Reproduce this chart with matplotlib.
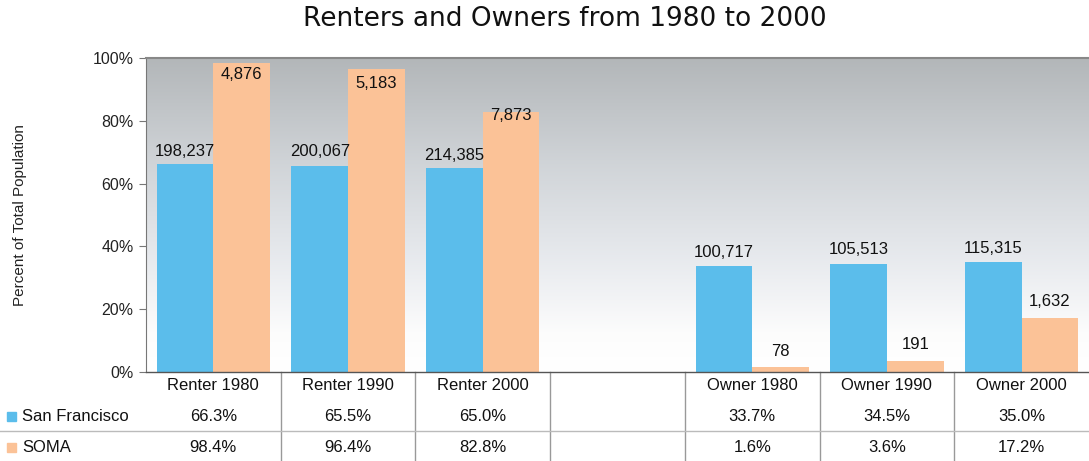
import matplotlib
matplotlib.use("Agg")
import matplotlib.pyplot as plt
import numpy as np
from matplotlib.colors import LinearSegmentedColormap
import matplotlib.transforms as mtransforms

categories = ["Renter 1980", "Renter 1990", "Renter 2000", "", "Owner 1980", "Owner 1990", "Owner 2000"]
sf_pct = [66.3, 65.5, 65.0, None, 33.7, 34.5, 35.0]
soma_pct = [98.4, 96.4, 82.8, None, 1.6, 3.6, 17.2]
sf_counts = ["198,237", "200,067", "214,385", "", "100,717", "105,513", "115,315"]
soma_counts = ["4,876", "5,183", "7,873", "", "78", "191", "1,632"]
series_names = ["San Francisco", "SOMA"]
yticks = [0, 20, 40, 60, 80, 100]
title = "Renters and Owners from 1980 to 2000"
ylabel = "Percent of Total Population"

# style
sf_color = "#5BBDEB"
soma_color = "#FBC297"
sf_label_off = [3.8, 4.6, 4.1, 0, 4.2, 4.4, 4.2]
soma_label_off = [-3.8, -4.4, -1.0, 0, 4.8, 5.0, 5.1]
fs = 12

plt.rcParams['font.family'] = ['Liberation Sans', 'DejaVu Sans']

fig = plt.figure(figsize=(10.89, 4.61), dpi=100)
ax = fig.add_axes([146/1089, (461-372)/461, (1089-146)/1089, 314/461])

n = len(categories)
x = np.arange(n)
ax.set_xlim(-0.5, n - 0.5)
ax.set_ylim(0, 100)

# gradient background
stops = [(0.0, (1, 1, 1)), (0.12, (0.99, 0.99, 0.99)), (0.35, (0.91, 0.92, 0.935)),
         (0.65, (0.82, 0.835, 0.85)), (1.0, (0.70, 0.715, 0.725))]
cmap = LinearSegmentedColormap.from_list("bg", stops)
grad = np.linspace(0, 1, 256).reshape(-1, 1)
ax.imshow(grad, extent=[-0.5, n - 0.5, 0, 100], origin="lower", aspect="auto",
          cmap=cmap, zorder=0)

w = 0.42
for i in range(n):
    if sf_pct[i] is None:
        continue
    ax.bar(x[i] - w/2, sf_pct[i], width=w, color=sf_color, zorder=2)
    ax.bar(x[i] + w/2, soma_pct[i], width=w, color=soma_color, zorder=2)
    ax.text(x[i] - w/2, sf_pct[i] + sf_label_off[i], sf_counts[i], ha="center",
            va="center", fontsize=fs, color="#111111", zorder=3)
    ax.text(x[i] + w/2, soma_pct[i] + soma_label_off[i], soma_counts[i], ha="center",
            va="center", fontsize=fs, color="#111111", zorder=3)

ax.set_yticks(yticks)
ax.set_yticklabels([f"{t}%" for t in yticks], fontsize=11.5, color="#222222")
ax.set_xticks([])
ax.tick_params(axis="y", direction="out", length=5, color="#777777", pad=4)
ax.spines["right"].set_visible(False)
ax.spines["top"].set_color("#888888")
ax.spines["top"].set_linewidth(1.5)
ax.spines["left"].set_color("#777777")
ax.spines["bottom"].set_color("#555555")
ax.spines["bottom"].set_linewidth(1.0)

ax.set_ylabel(ylabel, fontsize=11, color="#222222")
ax.yaxis.set_label_coords(-0.126, 0.5)

fig.text(565/1089, 1 - 19/461, title, ha="center", va="center", fontsize=19,
         family="DejaVu Sans", color="#111111")

# data table
trans = mtransforms.blended_transform_factory(ax.transData, ax.transAxes)
fy = lambda py: (372 - py) / 314
row_y = [fy(385), fy(416), fy(447)]
for i in range(n):
    ax.text(x[i], row_y[0], categories[i], transform=trans, ha="center", va="center",
            fontsize=fs, color="#111111", clip_on=False)
    if sf_pct[i] is not None:
        ax.text(x[i], row_y[1], f"{sf_pct[i]:.1f}%", transform=trans, ha="center",
                va="center", fontsize=fs, color="#111111", clip_on=False)
        ax.text(x[i], row_y[2], f"{soma_pct[i]:.1f}%", transform=trans, ha="center",
                va="center", fontsize=fs, color="#111111", clip_on=False)
# vertical lines
for b in np.arange(0.5, n - 0.5, 1.0):
    ax.plot([b, b], [0, fy(461)], transform=trans, color="#999999", lw=1.0,
            clip_on=False, zorder=1)
# horizontal line between rows
fig.add_artist(plt.Line2D([0, 1], [(461-431)/461]*2, color="#bbbbbb", lw=1.0))

# legend keys in table
for j, (name, col) in enumerate(zip(series_names, [sf_color, soma_color])):
    yy = [416, 447][j]
    fig.add_artist(plt.Rectangle((7/1089, (461-yy-5)/461), 9/1089, 9/461,
                                 color=col, transform=fig.transFigure))
    fig.text(22/1089, (461-yy)/461, name, ha="left", va="center", fontsize=fs,
             color="#111111")

fig.savefig("out.png", dpi=100)
